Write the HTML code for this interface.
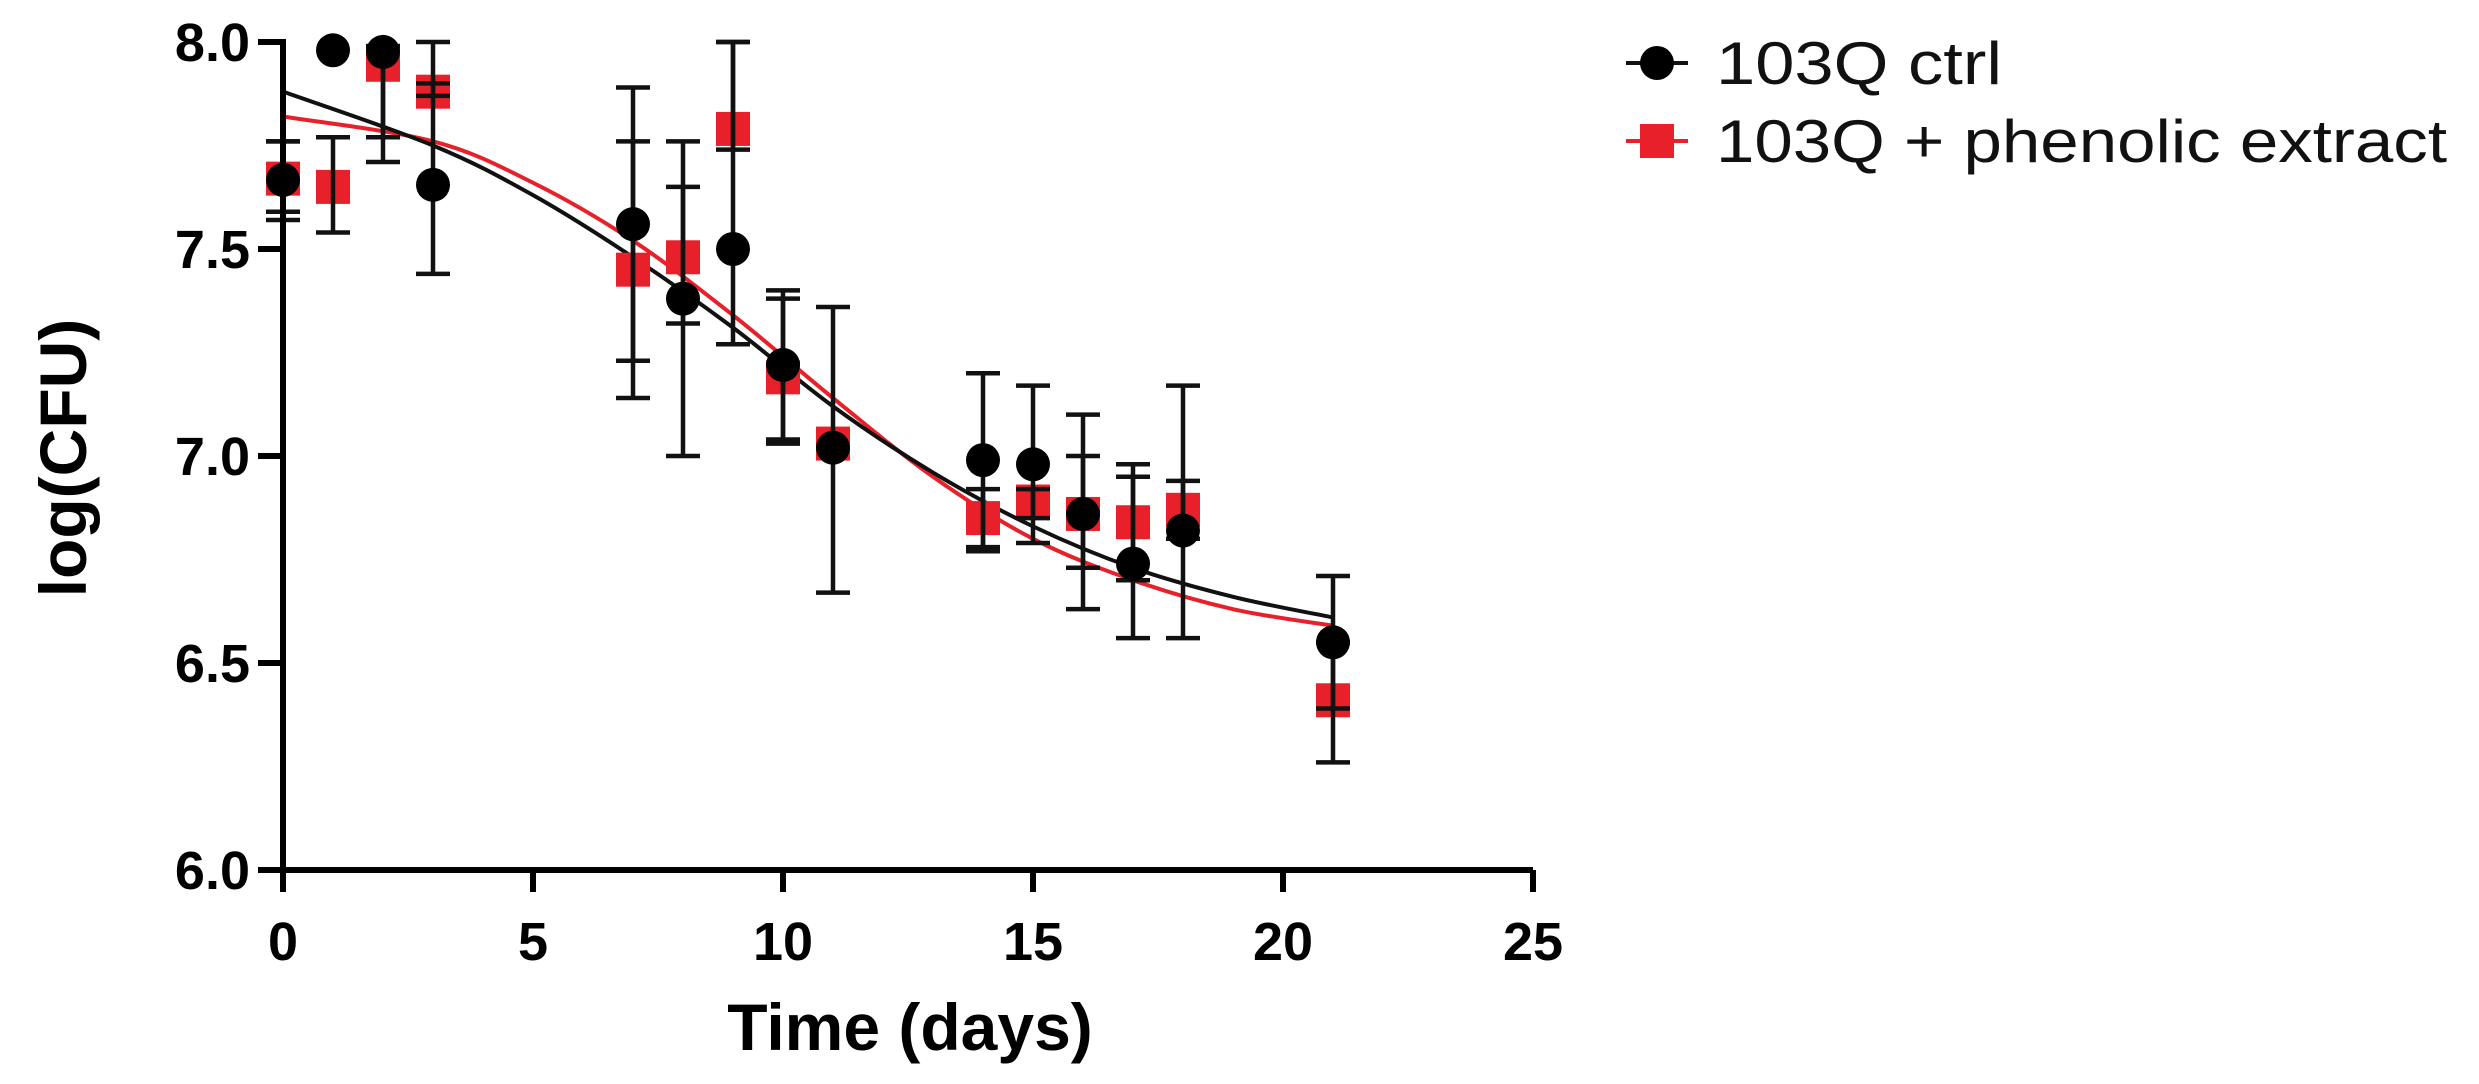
<!DOCTYPE html>
<html><head><meta charset="utf-8"><style>
html,body{margin:0;padding:0;background:#fff;}
svg{display:block;font-family:"Liberation Sans",Arial,sans-serif;}
</style></head><body>
<svg id="chart" width="2479" height="1084" viewBox="0 0 2479 1084"></svg>
<script>
const days=[0,1,2,3,7,8,9,10,11,14,15,16,17,18,21];
const ctrlMean=[7.667,7.98,7.976,7.655,7.56,7.38,7.50,7.22,7.02,6.99,6.98,6.86,6.74,6.82,6.55];
const ctrlLo=[7.57,7.98,7.71,7.44,7.23,7.00,7.27,7.03,6.67,6.77,6.79,6.63,6.56,6.56,6.39];
const ctrlHi=[7.76,7.98,7.99,8.00,7.89,7.65,8.00,7.40,7.36,7.20,7.17,7.10,6.98,7.17,6.71];
const phenMean=[7.67,7.65,7.945,7.88,7.45,7.48,7.79,7.19,7.03,6.85,6.89,6.86,6.84,6.87,6.41];
const phenLo=[7.59,7.54,7.77,7.87,7.14,7.32,7.74,7.04,7.03,6.78,6.85,6.73,6.70,6.80,6.26];
const phenHi=[7.76,7.77,7.99,7.90,7.76,7.76,8.00,7.38,7.03,6.92,6.92,7.00,6.95,6.94,6.55];
const fitDays=[0,3,5,7,9,11,13,15,17,19,21];
const ctrlFit=[7.88,7.75,7.63,7.48,7.31,7.12,6.96,6.83,6.73,6.66,6.61];
const phenFit=[7.82,7.76,7.66,7.52,7.34,7.14,6.95,6.80,6.70,6.63,6.59];
const xTicks=[0,5,10,15,20,25];
const yTicks=[6.0,6.5,7.0,7.5,8.0];
const seriesNames=["103Q ctrl","103Q + phenolic extract"];

const NS="http://www.w3.org/2000/svg";
const svg=document.getElementById('chart');
const X0=283,PX=50,Y8=42,PY=414;
const xs=d=>X0+d*PX;
const ys=v=>Y8+(8-v)*PY;
function mk(tag,attrs,parent){const e=document.createElementNS(NS,tag);for(const k in attrs)e.setAttribute(k,attrs[k]);(parent||svg).appendChild(e);return e;}

function smooth(xa,ya){const p=xa.map((d,i)=>[xs(d),ys(ya[i])]);let s=`M${p[0][0]},${p[0][1]}`;
for(let i=0;i<p.length-1;i++){const p0=p[Math.max(0,i-1)],p1=p[i],p2=p[i+1],p3=p[Math.min(p.length-1,i+2)];
s+=` C${p1[0]+(p2[0]-p0[0])/6},${p1[1]+(p2[1]-p0[1])/6} ${p2[0]-(p3[0]-p1[0])/6},${p2[1]-(p3[1]-p1[1])/6} ${p2[0]},${p2[1]}`;}return s;}
const fr=mk('path',{d:smooth(fitDays,phenFit),fill:'none',stroke:'#e8202a','stroke-width':4});


const fb=mk('path',{d:smooth(fitDays,ctrlFit),fill:'none',stroke:'#111','stroke-width':4});



function errbar(d,lo,hi,name){const g=mk('g',{stroke:'#111','stroke-width':4.5});


mk('line',{x1:xs(d),x2:xs(d),y1:ys(hi),y2:ys(lo)},g);
mk('line',{x1:xs(d)-17,x2:xs(d)+17,y1:ys(hi),y2:ys(hi)},g);
mk('line',{x1:xs(d)-17,x2:xs(d)+17,y1:ys(lo),y2:ys(lo)},g);}

days.forEach((d,i)=>{
 const r=mk('rect',{x:xs(d)-17,y:ys(phenMean[i])-17,width:34,height:34,fill:'#e8202a'});
 
 
});
days.forEach((d,i)=>{ if(phenHi[i]-phenLo[i]>0.02) errbar(d,phenLo[i],phenHi[i],'phenolic-error-day-'+d); });
days.forEach((d,i)=>{ if(ctrlHi[i]-ctrlLo[i]>0.02) errbar(d,ctrlLo[i],ctrlHi[i],'ctrl-error-day-'+d); });
days.forEach((d,i)=>{
 const c=mk('circle',{cx:xs(d),cy:ys(ctrlMean[i]),r:17,fill:'#000'});
 
 
});

const ax=mk('g',{stroke:'#000','stroke-width':6,fill:'none'});


mk('path',{d:`M${X0-25},${ys(8)} H${X0} V${ys(6)} H${xs(25)}`},ax);
yTicks.forEach(v=>{mk('line',{x1:X0-25,x2:X0,y1:ys(v),y2:ys(v)},ax);
 const t=mk('text',{x:250,y:ys(v)+19,'text-anchor':'end','font-size':54,'font-weight':'bold',fill:'#000'});
 t.textContent=v.toFixed(1);
 
 });
xTicks.forEach(v=>{mk('line',{x1:xs(v),x2:xs(v),y1:ys(6),y2:ys(6)+22},ax);
 const t=mk('text',{x:xs(v),y:960,'text-anchor':'middle','font-size':54,'font-weight':'bold',fill:'#000'});
 t.textContent=v;
 
 });
const xt=mk('text',{x:910,y:1050,'text-anchor':'middle','font-size':66,'font-weight':'bold'});
xt.textContent='Time (days)';


const yt=mk('text',{x:0,y:0,'text-anchor':'middle','font-size':66,'font-weight':'bold',transform:'translate(86,458) rotate(-90)'});
yt.textContent='log(CFU)';



[0,1].forEach(i=>{const y=[63,141][i];const g=mk('g',{});
 
 
 mk('line',{x1:1626,x2:1688,y1:y,y2:y,stroke:i?'#e8202a':'#111','stroke-width':4},g);
 if(i) mk('rect',{x:1640,y:y-17,width:34,height:34,fill:'#e8202a'},g);
 else mk('circle',{cx:1657,cy:y,r:17,fill:'#000'},g);
 const t=mk('text',{x:1716,y:y+21,'font-size':60,fill:'#111',textLength:i?731:286,lengthAdjust:'spacingAndGlyphs'},g);t.textContent=seriesNames[i];});
</script>
</body></html>
